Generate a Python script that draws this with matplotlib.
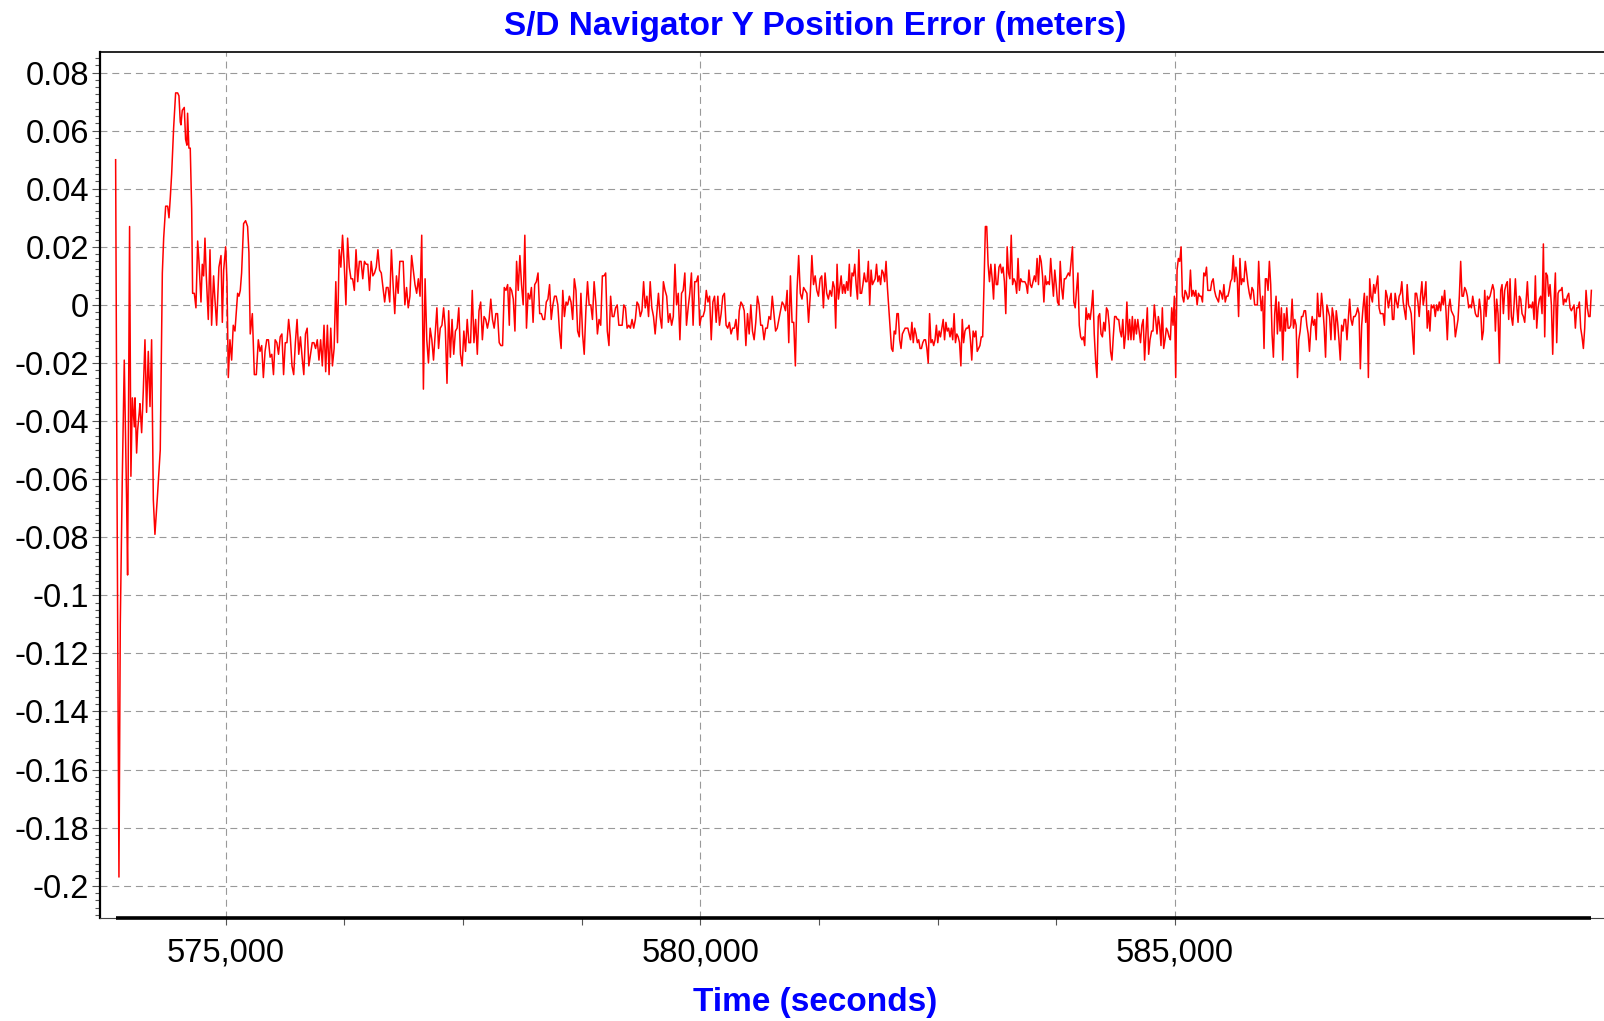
import numpy as np
import matplotlib
matplotlib.use('Agg')
import matplotlib.pyplot as plt
from matplotlib.ticker import MultipleLocator, FixedLocator, FuncFormatter

plt.rcParams['font.family'] = ['Liberation Sans', 'DejaVu Sans']
plt.rcParams['axes.unicode_minus'] = False
plt.rcParams['lines.scale_dashes'] = False

# --- Data: time in seconds, Y position error in millimetres ---
# start-up transient (irregular sample times)
START_T = [573841, 573855, 573876, 573890, 573911, 573932, 573957, 573967, 573978, 573988,
           574002, 574017, 574038, 574045, 574062, 574073, 574090, 574097, 574115, 574132,
           574150, 574167, 574185, 574203, 574220, 574238, 574255, 574283, 574311, 574333,
           574347, 574368, 574389, 574403, 574417, 574431, 574452, 574473, 574494, 574508,
           574522, 574529, 574543, 574564, 574578, 574592, 574599, 574613, 574627, 574642,
           574652, 574670, 574687, 574705, 574719, 574740, 574754, 574768, 574782, 574796,
           574817, 574835, 574852, 574873, 574887, 574905, 574929, 574951, 574965, 574979,
           575000, 575014, 575028, 575045, 575063, 575080, 575098, 575126, 575140, 575154,
           575168, 575189, 575210, 575231, 575245, 575259, 575281, 575302, 575323]
START_MM = [50, -60, -197, -110, -60, -19, -68, -93, -28, 27,
            -59, -32, -42, -32, -51, -43, -37, -34, -44, -30,
            -12, -37, -16, -35, -12, -67, -79, -65, -50, 11,
            23, 34, 34, 30, 37, 45, 61, 73, 73, 72,
            63, 62, 67, 68, 57, 55, 66, 54, 54, 33,
            4, 4, -1, 22, 15, 1, 14, 10, 23, 10,
            -5, 19, -7, 10, 2, -7, 13, 17, -6, 12,
            20, 8, -25, -12, -19, -7, -9, 4, 3, 5,
            11, 28, 29, 27, 18, -10, -3, -24, -24]

# steady running, uniformly sampled blocks: (first time, last time) and values
BLOCK1_SPAN = (575344, 577988)
BLOCK1_MM = [-12, -16, -14, -25, -16, -12, -12, -18, -17, -24,
             -12, -13, -17, -11, -10, -24, -13, -13, -5, -11,
             -21, -24, -13, -5, -17, -11, -18, -24, -10, -8,
             -21, -17, -13, -13, -15, -12, -19, -12, -21, -7,
             -23, -7, -24, -8, -21, -15, 8, -13, 19, 13,
             24, 14, 0, 23, 13, 9, 9, 5, 19, 8,
             15, 15, 9, 15, 14, 14, 5, 15, 10, 11,
             13, 19, 12, 11, 6, 1, 6, 6, 1, 19,
             7, -3, 10, 4, 15, 15, 15, 0, 6, -1,
             3, 17, 12, 7, 4, 9, 3, 24, -29, 9,
             -12, -20, -8, -12, -19, -10, -1, -15, -8, -7,
             -1, -8, -27, -2, -18, -5, -17, -9, -8, -1,
             -17, -21, -9, -16, -5, -13, -13, 5, -13, -5,
             -17, -2, 1, -12, -4, -5, -8, -5, 2, -5,
             -8, -3, -3, -13, -14, -14, 6, 5, 7, -7]

BLOCK2_SPAN = (577995, 581366)
BLOCK2_MM = [6, 5, 2, -9, 15, 5, 17, 7, 0, 24,
             -8, 4, 2, 6, -6, 7, 8, 11, -3, -3,
             -5, -5, 1, 2, 7, -5, 0, 3, 3, 0,
             -9, -15, 5, -4, 1, 0, 3, 1, -5, 9,
             5, -9, -11, 4, -10, -17, -2, 8, 0, 0,
             -5, 8, 1, -10, -5, -7, 10, 10, 11, -9,
             -14, 3, -4, -4, -1, 0, -7, -7, -7, 0,
             -1, -8, -7, -8, -5, -8, -5, 1, 0, -4,
             -2, 8, -1, 3, -4, 8, -1, -4, -10, -3,
             4, -4, -8, 8, 5, 3, -6, -3, -7, -4,
             14, 0, 4, -12, 4, 5, 11, -7, -1, 4,
             11, -7, 8, 8, 10, -7, -4, -4, -2, 5,
             1, 3, -12, 1, 3, -6, 3, -7, -3, 3,
             4, -7, -8, -6, -10, -8, -8, -5, -12, -2,
             1, 0, -2, -14, -3, -10, 0, -9, -12, -6,
             3, 0, -7, -7, -12, -8, -8, -4, -5, 3,
             -3, -9, -8, -5, -2, 1, 0, -2, 5, -13,
             10, -6, -6, -21, 5, 17, 4, 2, 6, 5,
             4, -6, 3, 17, 7, 10, 5, 3, 9, 10,
             -1, 11, 4, 2, 5]

BLOCK3_SPAN = (581383, 584737)
BLOCK3_MM = [3, 8, 6, -8, 14, 2, 6, 10, 4, 7,
             4, 8, 5, 14, 3, 11, 10, 14, 7, 2,
             19, 4, 4, 7, 11, 8, 8, 15, 0, 12,
             7, 8, 9, 14, 8, 10, 7, 12, 11, 8,
             15, 6, -1, -8, -15, -16, -9, -10, -3, -3,
             -12, -15, -10, -9, -8, -8, -8, -10, -12, -6,
             -13, -8, -10, -13, -12, -15, -15, -13, -12, -12,
             -15, -20, -3, -13, -12, -14, -12, -7, -13, -9,
             -11, -8, -5, -12, -6, -9, -8, -11, -8, -12,
             -3, -13, -10, -11, -13, -21, -5, -13, -9, -8,
             -8, -7, -12, -19, -9, -11, -9, -16, -15, -14,
             -11, -11, 7, 27, 27, 14, 8, 14, 9, 2,
             14, 7, 7, 13, 14, 11, 13, 8, -3, 20,
             11, 9, 24, 7, 9, 8, 4, 16, 5, 9,
             8, 8, 8, 7, 4, 12, 7, 6, 8, 10,
             8, 16, 7, 17, 15, 10, 1, 10, 7, 8,
             7, 16, 9, 3, 12, 7, 1, 0, 15, 6,
             2, 9, 9, 10, 11, 10, 15, 20, 1, -1,
             5, 11, -7, -11, -12, -11, -14, -1, -5, -3,
             -5, -1, 5, -10, -19, -25, -4, -3, -10, -11,
             -6, -9, -1, -2, -7, -16, -19, -11, -4, -4,
             -5, -5, -9, -11, -5, -15, -10, 1, -12, -5,
             -12, -4, -12, -5, -10, -5, -9, -13, -7, -5,
             -19, -10, -1, -17, -12]

BLOCK4_SPAN = (584754, 588108)
BLOCK4_MM = [-9, -9, 0, -5, -10, -4, -7, -14, -1, -15,
             -12, -8, -9, -11, -12, -1, -7, 3, -25, 12,
             16, 15, 20, 3, 1, 5, 4, 2, 3, 12,
             3, 5, 3, 5, 0, 4, 3, 3, 1, 11,
             10, 13, 5, 5, 5, 8, 9, 5, 3, 2,
             1, 5, 4, 2, 7, 1, 3, 3, 5, 8,
             9, 17, 8, 13, 9, -4, 16, 7, 9, 8,
             15, 11, 7, 4, 2, 6, 5, 0, 0, 0,
             15, 4, -2, 3, -15, 9, 9, 5, 15, 7,
             -10, -18, -3, 3, -10, 1, -9, -1, -19, -3,
             -9, -1, -8, -8, -7, 2, -8, -5, -7, -25,
             -12, -9, -4, -4, -2, -2, -7, -10, -16, -8,
             -4, -7, -5, -12, 4, -4, -4, 4, -1, -8,
             -18, 0, -2, -4, -12, -1, -4, -12, -2, -6,
             -12, -19, -7, -9, -5, -5, -12, -5, 2, -5,
             -7, -4, -4, -3, -1, -3, -22, -7, -1, 4,
             -6, 3, -25, 9, 3, 1, 7, 4, 7, 10,
             -1, -3, -3, -3, -7, 5, 3, -1, 2, 4,
             -5, -5, 4, 1, -1, 3, 4, 8, 1, -2,
             -5, 7, 0, -1, -3, -10, -17, 4, 4, 1,
             -4, 3, 8, 0, 3, 8, -8, -2, -9, 0,
             -1, 0, -4, 0, -2, 1, -2, 3, 0, 5,
             -2, -12, -1, 2, -2, -3, -4, -11, -8, -5,
             3, 15, 3, 3, 6, 5, 3, -1, 0]

BLOCK5_SPAN = (588122, 589386)
BLOCK5_MM = [-1, 3, 0, -3, -4, -4, 2, -2, -12, -9,
             5, -4, 3, 2, 3, 5, 7, 5, -9, 2,
             -3, -20, 5, 7, -3, 5, 7, 8, -5, 9,
             -4, -7, 0, 9, 0, -6, 3, 2, -3, -4,
             -6, 1, 8, -1, 0, -1, 1, -5, 10, -8,
             -1, 2, 3, -3, 21, -11, 11, 10, 3, 7,
             0, -17, 1, 11, -13, 4, 5, 5, 6, 0,
             2, 1, 3, 4, -1, -2, -1, 0, -8, -1,
             -1, 1, -8, -11, -15, -8, 5, -1, -4, -4,
             5]

BLOCKS = [(BLOCK1_SPAN, BLOCK1_MM), (BLOCK2_SPAN, BLOCK2_MM), (BLOCK3_SPAN, BLOCK3_MM),
          (BLOCK4_SPAN, BLOCK4_MM), (BLOCK5_SPAN, BLOCK5_MM)]

X_LIMITS = (573679, 589519)
Y_LIMITS = (-0.2111, 0.0871)
X_MAJOR = [575000, 580000, 585000]

# --- Assemble the series ---
time_s = np.concatenate([np.array(START_T, dtype=float)] +
                        [np.linspace(span[0], span[1], len(vals)) for span, vals in BLOCKS])
error_m = np.concatenate([np.array(START_MM, dtype=float)] +
                         [np.array(vals, dtype=float) for _, vals in BLOCKS]) / 1000.0

# --- Plot ---
fig = plt.figure(figsize=(16.04, 10.21), dpi=100)
ax = fig.add_axes([0.0625, 0.1009, 0.9375, 0.8482])

ax.plot(time_s, error_m, color='#ff0000', linewidth=1.1, zorder=3)
# thick black bar along the bottom for the span of the data
ax.plot([time_s[0], time_s[-1]], [Y_LIMITS[0], Y_LIMITS[0]], color='black',
        linewidth=2.6, solid_capstyle='butt', clip_on=False, zorder=6)

ax.set_xlim(*X_LIMITS)
ax.set_ylim(*Y_LIMITS)

# minor x ticks only between the labelled major ticks (4 steps each)
x_minor = [a + (b - a) * k / 4 for a, b in zip(X_MAJOR[:-1], X_MAJOR[1:]) for k in (1, 2, 3)]
ax.xaxis.set_major_locator(FixedLocator(X_MAJOR))
ax.xaxis.set_minor_locator(FixedLocator(x_minor))
ax.yaxis.set_major_locator(MultipleLocator(0.02))
ax.yaxis.set_minor_locator(MultipleLocator(0.0025))
ax.xaxis.set_major_formatter(FuncFormatter(lambda v, _: f'{v:,.0f}'))


def y_fmt(v, _):
    if abs(v) < 1e-9:
        return '0'
    return '%g' % round(v, 4)


ax.yaxis.set_major_formatter(FuncFormatter(y_fmt))

ax.tick_params(axis='x', which='both', direction='out', length=5, width=0.8,
               color='#555555', labelsize=23.5, pad=9)
ax.tick_params(axis='y', which='major', direction='out', length=6, width=0.8,
               color='#555555', labelsize=23.5, pad=2)
ax.tick_params(axis='y', which='minor', direction='out', length=3.5, width=0.8,
               color='#555555')

ax.grid(True, which='major', color='#999999', linestyle=(0, (5.0, 3.5)), linewidth=0.8)

ax.spines['right'].set_visible(False)
ax.spines['top'].set_color('black')
ax.spines['top'].set_linewidth(1.2)
ax.spines['left'].set_color('black')
ax.spines['left'].set_linewidth(1.6)
ax.spines['bottom'].set_color('#444444')
ax.spines['bottom'].set_linewidth(0.8)

fig.text(0.508, 0.9657, 'S/D Navigator Y Position Error (meters)', color='#0000ff',
         fontsize=24, fontweight='bold', ha='center', va='baseline')
fig.text(0.508, 0.0098, 'Time (seconds)', color='#0000ff',
         fontsize=24, fontweight='bold', ha='center', va='baseline')

fig.savefig('out.png', dpi=100)
